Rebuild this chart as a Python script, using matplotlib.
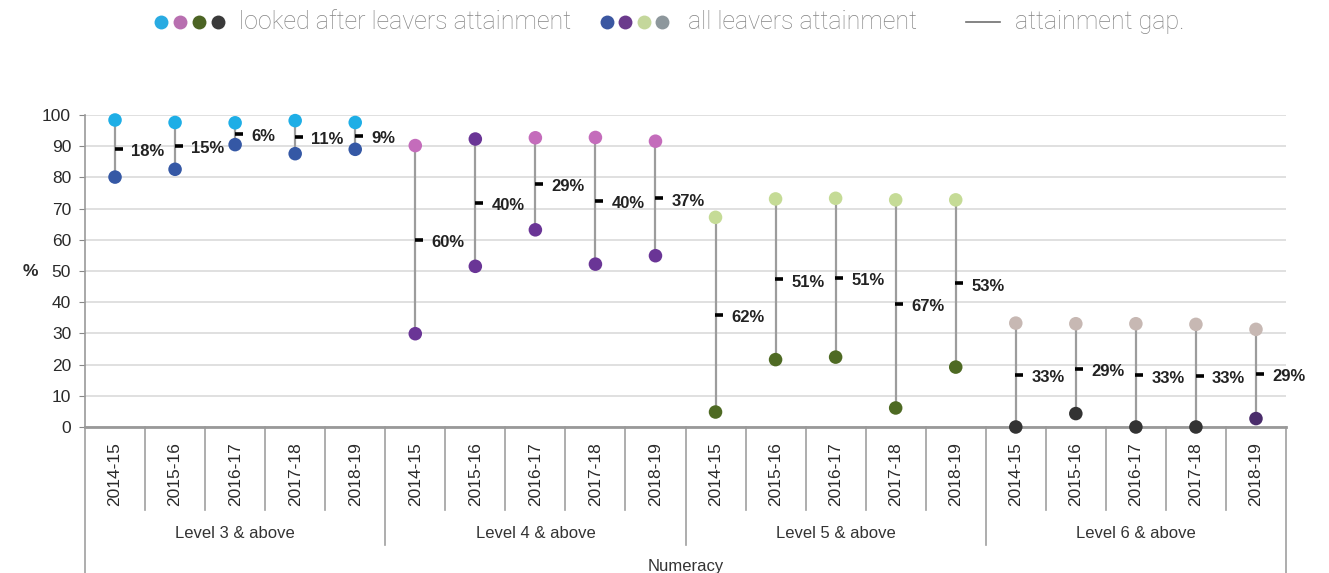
import matplotlib
matplotlib.use('Agg')
import matplotlib.pyplot as plt
from matplotlib.lines import Line2D
from matplotlib.transforms import blended_transform_factory

years = ['2014-15', '2015-16', '2016-17', '2017-18', '2018-19']
levels = ['Level 3 & above', 'Level 4 & above', 'Level 5 & above', 'Level 6 & above']
top_vals = [98.4, 97.6, 97.5, 98.2, 97.6,
            90.2, 92.3, 92.7, 92.8, 91.6,
            67.2, 73.1, 73.3, 72.8, 72.8,
            33.3, 33.1, 33.1, 32.9, 31.3]
bottom_vals = [80.1, 82.6, 90.5, 87.6, 89.0,
               29.9, 51.5, 63.2, 52.2, 54.9,
               4.8, 21.6, 22.4, 6.1, 19.2,
               0.0, 4.3, 0.0, 0.0, 2.7]
gap_labels = ['18%', '15%', '6%', '11%', '9%',
              '60%', '40%', '29%', '40%', '37%',
              '62%', '51%', '51%', '67%', '53%',
              '33%', '29%', '33%', '33%', '29%']

# colours of the dots, per category
top_colors = ['#1eaee6'] * 5 + ['#c46cbb', '#6a3596', '#c46cbb', '#c46cbb', '#c46cbb'] \
    + ['#c5db96'] * 5 + ['#c7b8b3'] * 5
bottom_colors = ['#3558a5'] * 5 + ['#6a3596'] * 5 + ['#4e6a23'] * 5 \
    + ['#333333'] * 4 + ['#4a2c6b']

W, H = 1329, 573
fig = plt.figure(figsize=(W / 100, H / 100), dpi=100)
ax = fig.add_axes([85 / W, (H - 427) / H, 1201 / W, 312 / H])

x = list(range(len(years) * len(levels)))
ax.vlines(x, bottom_vals, top_vals, color='#9c9c9c', lw=1.6, zorder=2)
ax.scatter(x, top_vals, s=95, c=top_colors, zorder=3, clip_on=False, linewidths=0)
ax.scatter(x, bottom_vals, s=95, c=bottom_colors, zorder=3, clip_on=False, linewidths=0)

mids = [(t + b) / 2 for t, b in zip(top_vals, bottom_vals)]
for xi, m, lab in zip(x, mids, gap_labels):
    ax.plot(xi + 0.06, m, marker='_', ms=6, mew=2.6, color='black', zorder=4)
    ax.annotate(lab, (xi, m), xytext=(11.5, -2), textcoords='offset points',
                ha='left', va='center', fontsize=12, fontweight='bold',
                color='#222222', family='Liberation Sans')

ax.set_xlim(-0.5, len(x) - 0.5)
ax.set_ylim(0, 100)
ax.set_yticks(range(0, 101, 10))
ax.set_xticks([])
ax.tick_params(axis='y', length=4, color='#888888', labelsize=12.5, labelcolor='#2a2a2a', pad=6)
for lab in ax.get_yticklabels():
    lab.set_family('Liberation Sans')
ax.grid(axis='y', color='#dadada', lw=1.2)
ax.set_axisbelow(True)
for s in ['top', 'right']:
    ax.spines[s].set_visible(False)
ax.spines['left'].set_color('#999999')
ax.spines['left'].set_linewidth(1.2)
ax.spines['bottom'].set_color('#999999')
ax.spines['bottom'].set_linewidth(2)

fig.text(30 / W, 1 - 272 / H, '%', ha='center', va='center', fontsize=12.5,
         fontweight='bold', color='#2a2a2a', family='Liberation Sans')

# multi-level category axis below the plot
tr = blended_transform_factory(ax.transData, fig.transFigure)
y0 = (H - 427) / H
def fy(px):
    return 1 - px / H

for k in range(1, len(x)):
    if k % 5 == 0:
        ax.plot([k - 0.5, k - 0.5], [y0, fy(545)], color='#a0a0a0', lw=1.2,
                transform=tr, clip_on=False)
    else:
        ax.plot([k - 0.5, k - 0.5], [y0, fy(510)], color='#a0a0a0', lw=1.2,
                transform=tr, clip_on=False)
for edge in [-0.5, len(x) - 0.5]:
    ax.plot([edge, edge], [y0, 0], color='#a0a0a0', lw=1.2, transform=tr, clip_on=False)

for xi in x:
    ax.text(xi, fy(474), years[xi % 5], rotation=90, ha='center', va='center',
            fontsize=12.5, color='#2a2a2a', transform=tr, family='Liberation Sans')
for g, lev in enumerate(levels):
    ax.text(g * 5 + 2, fy(533), lev, ha='center', va='center', fontsize=12,
            color='#333333', transform=tr, family='Liberation Sans')
ax.text((len(x) - 1) / 2, fy(567), 'Numeracy', ha='center', va='center', fontsize=12,
        color='#333333', transform=tr, family='Liberation Sans')

# legend at the top
leg_y = 1 - 22 / H
dots1 = [('#29abe2', 161), ('#b86fb0', 180), ('#4c6424', 199), ('#3a3a3a', 218)]
dots2 = [('#3b57a1', 607), ('#6b3a8c', 625), ('#c4d79b', 644), ('#8d979c', 662)]
for col, px in dots1 + dots2:
    fig.add_artist(Line2D([px / W], [leg_y], marker='o', ms=10, color=col,
                          mew=0, transform=fig.transFigure))
fig.add_artist(Line2D([966 / W, 1000 / W], [leg_y, leg_y], color='#707070', lw=1.2,
                      transform=fig.transFigure))
for px, txt in [(239, 'looked after leavers attainment'), (688, 'all leavers attainment'),
                (1015, 'attainment gap.')]:
    fig.text(px / W, leg_y, txt, ha='left', va='center', fontsize=18, color='#858585',
             family='Roboto', fontweight='light')

fig.savefig('out.png', dpi=100)
